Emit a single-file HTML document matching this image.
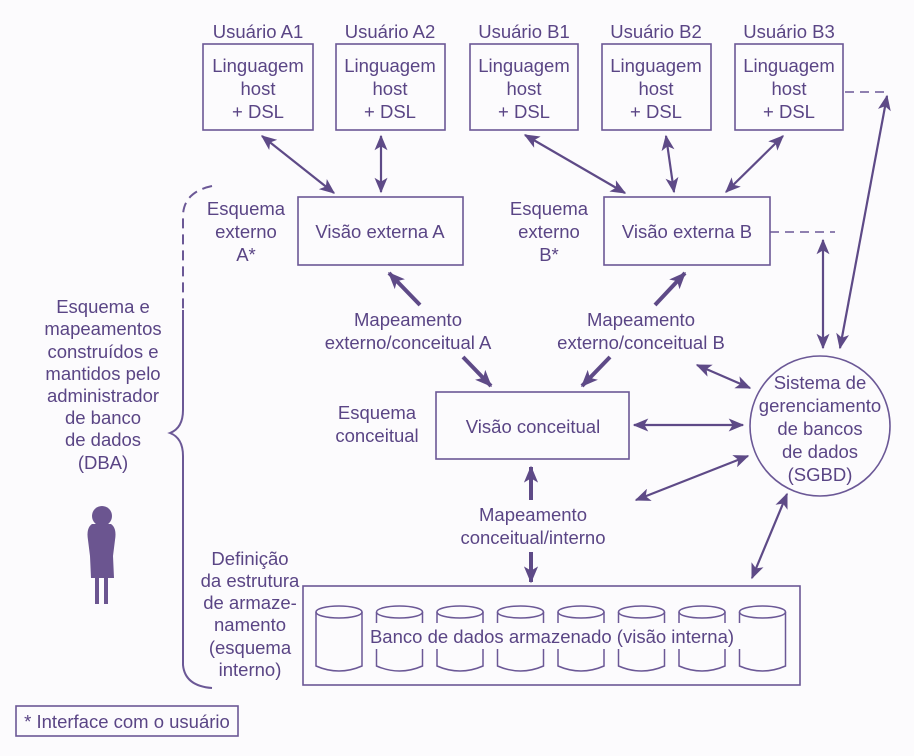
<!DOCTYPE html>
<html><head><meta charset="utf-8"><style>
html,body{margin:0;padding:0;background:#fcfbfd;}
svg{display:block;}
text{font-family:"Liberation Sans",sans-serif;font-size:18.5px;fill:#5a4585;text-anchor:middle;}
</style></head><body>
<svg width="914" height="756" viewBox="0 0 914 756" xmlns="http://www.w3.org/2000/svg">
<defs>
<marker id="a" viewBox="0 0 12 10" refX="11" refY="5" markerWidth="16" markerHeight="13" markerUnits="userSpaceOnUse" orient="auto-start-reverse">
<path d="M0,0 L12,5 L0,10 L3,5 Z" fill="#5e4a87"/></marker>
<marker id="b" viewBox="0 0 12 10" refX="11" refY="5" markerWidth="17" markerHeight="15" markerUnits="userSpaceOnUse" orient="auto-start-reverse">
<path d="M0,0 L12,5 L0,10 L3,5 Z" fill="#5e4a87"/></marker>
</defs>
<rect width="914" height="756" fill="#fcfbfd"/>
<g fill="none" stroke="#6b5896" stroke-width="1.6">
<rect x="203" y="44" width="110" height="86"/>
<rect x="336" y="44" width="109" height="86"/>
<rect x="470" y="44" width="108" height="86"/>
<rect x="602" y="44" width="109" height="86"/>
<rect x="735" y="44" width="108" height="86"/>
<rect x="298" y="197" width="165" height="68"/>
<rect x="604" y="197" width="166" height="68"/>
<rect x="436" y="392" width="193" height="67"/>
<circle cx="820" cy="426" r="70"/>
<rect x="303" y="586" width="497" height="99"/>
<rect x="16" y="706" width="222" height="30"/>
<path d="M845,92 H890 M770,232 H835" stroke-dasharray="9,6"/>
<path d="M212,186 Q184,192 183,215 V310" stroke-width="2" stroke-dasharray="10,6"/>
<path d="M183,310 V410 Q183,428 170,433 Q183,438 183,456 V665 Q185,686 212,688" stroke-width="2"/>
</g>
<g fill="none" stroke="#6b5896" stroke-width="1.5">
<g id="cyl"><path d="M316,612 V666 Q339,676 362,666 V612"/><ellipse cx="339" cy="612" rx="23" ry="6"/></g>
<use href="#cyl" x="60.5"/><use href="#cyl" x="121"/><use href="#cyl" x="181.5"/><use href="#cyl" x="242"/><use href="#cyl" x="302.5"/><use href="#cyl" x="363"/><use href="#cyl" x="423.5"/>
</g>
<rect x="364" y="623" width="382" height="26" fill="#fcfbfd"/>
<g stroke="#5e4a87" stroke-width="2.2" fill="none">
<line x1="262" y1="136" x2="334" y2="193" marker-start="url(#a)" marker-end="url(#a)"/>
<line x1="381" y1="136" x2="381" y2="192" marker-start="url(#a)" marker-end="url(#a)"/>
<line x1="525" y1="135" x2="625" y2="193" marker-start="url(#a)" marker-end="url(#a)"/>
<line x1="666" y1="136" x2="674" y2="192" marker-start="url(#a)" marker-end="url(#a)"/>
<line x1="783" y1="136" x2="726" y2="192" marker-start="url(#a)" marker-end="url(#a)"/>
<line x1="887" y1="96" x2="840" y2="348" marker-start="url(#a)" marker-end="url(#a)"/>
<line x1="823" y1="240" x2="823" y2="348" marker-start="url(#a)" marker-end="url(#a)"/>
<line x1="634" y1="425" x2="743" y2="425" marker-start="url(#a)" marker-end="url(#a)"/>
<line x1="697" y1="365" x2="750" y2="388" marker-start="url(#a)" marker-end="url(#a)"/>
<line x1="636" y1="500" x2="748" y2="456" marker-start="url(#a)" marker-end="url(#a)"/>
<line x1="752" y1="578" x2="787" y2="494" marker-start="url(#a)" marker-end="url(#a)"/>
</g>
<g stroke="#5e4a87" stroke-width="4" fill="none">
<line x1="420" y1="305" x2="389" y2="273" marker-end="url(#b)"/>
<line x1="655" y1="305" x2="685" y2="273" marker-end="url(#b)"/>
<line x1="463" y1="357" x2="491" y2="386" marker-end="url(#b)"/>
<line x1="610" y1="357" x2="582" y2="386" marker-end="url(#b)"/>
<line x1="531" y1="500" x2="531" y2="467" marker-end="url(#b)"/>
<line x1="531" y1="552" x2="531" y2="582" marker-end="url(#b)"/>
</g>
<g fill="#6b5590">
<circle cx="102" cy="516" r="10"/>
<path d="M92,524 Q86,528 88,540 L90,556 L91,578 L114,578 L113,556 L115,540 Q117,528 111,524 Z"/>
<rect x="95" y="576" width="4" height="28"/><rect x="104" y="576" width="4" height="28"/>
</g>
<text x="258" y="38">Usuário A1</text><text x="390" y="38">Usuário A2</text><text x="524" y="38">Usuário B1</text><text x="656" y="38">Usuário B2</text><text x="789" y="38">Usuário B3</text>
<g>
<text x="258" y="72">Linguagem</text><text x="258" y="95">host</text><text x="258" y="118">+ DSL</text>
<text x="390" y="72">Linguagem</text><text x="390" y="95">host</text><text x="390" y="118">+ DSL</text>
<text x="524" y="72">Linguagem</text><text x="524" y="95">host</text><text x="524" y="118">+ DSL</text>
<text x="656" y="72">Linguagem</text><text x="656" y="95">host</text><text x="656" y="118">+ DSL</text>
<text x="789" y="72">Linguagem</text><text x="789" y="95">host</text><text x="789" y="118">+ DSL</text>
</g>
<text x="380" y="238">Visão externa A</text>
<text x="687" y="238">Visão externa B</text>
<text x="533" y="433">Visão conceitual</text>
<text x="552" y="643">Banco de dados armazenado (visão interna)</text>
<text x="246" y="215">Esquema</text><text x="246" y="238">externo</text><text x="246" y="261">A*</text>
<text x="549" y="215">Esquema</text><text x="549" y="238">externo</text><text x="549" y="261">B*</text>
<text x="408" y="326">Mapeamento</text><text x="408" y="349">externo/conceitual A</text>
<text x="641" y="326">Mapeamento</text><text x="641" y="349">externo/conceitual B</text>
<text x="377" y="419">Esquema</text><text x="377" y="442">conceitual</text>
<text x="533" y="521">Mapeamento</text><text x="533" y="544">conceitual/interno</text>
<text x="820" y="389">Sistema de</text><text x="820" y="412">gerenciamento</text><text x="820" y="435">de bancos</text><text x="820" y="458">de dados</text><text x="820" y="481">(SGBD)</text>
<text x="103" y="313">Esquema e</text><text x="103" y="335">mapeamentos</text><text x="103" y="358">construídos e</text><text x="103" y="380">mantidos pelo</text><text x="103" y="402">administrador</text><text x="103" y="424">de banco</text><text x="103" y="446">de dados</text><text x="103" y="469">(DBA)</text>
<text x="250" y="565">Definição</text><text x="250" y="587">da estrutura</text><text x="250" y="609">de armaze-</text><text x="250" y="631">namento</text><text x="250" y="654">(esquema</text><text x="250" y="676">interno)</text>
<text x="127" y="728">* Interface com o usuário</text>
</svg>
</body></html>
